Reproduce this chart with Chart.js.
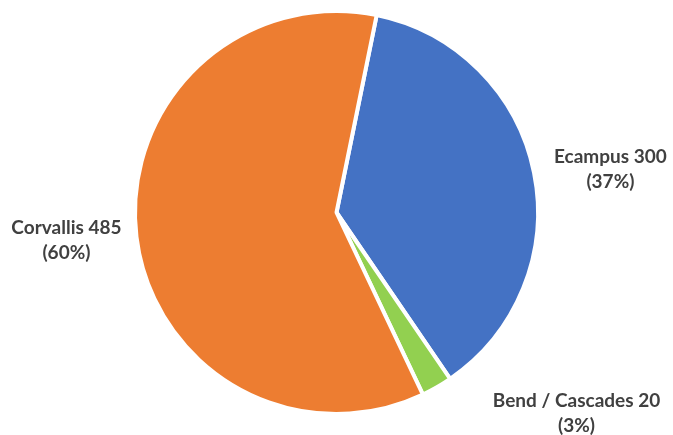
<!DOCTYPE html>
<html><head><meta charset="utf-8">
<script src="https://cdn.jsdelivr.net/npm/chart.js@4"></script>
<style>html,body{margin:0;padding:0;background:#fff}#wrap{width:673px;height:435px}</style>
</head><body><div id="wrap"><canvas id="c"></canvas></div>
<script>
const categories = ['Ecampus', 'Bend / Cascades', 'Corvallis'];
const values = [300, 20, 485];
const percentLabels = ['37%', '3%', '60%'];
const colors = ['#4472C4', '#92D050', '#ED7D31'];

// label placement tweaks relative to arc edge point at mid-angle: [dx, dy, align]
const labelTweaks = [[20, -3, 'left'], [56, 26, 'left'], [-15, 4, 'right']];

const labelPlugin = {
  id: 'outLabels',
  afterDatasetsDraw(chart) {
    const ctx = chart.ctx;
    const meta = chart.getDatasetMeta(0);
    ctx.save();
    ctx.font = 'bold 19px Lato, "Open Sans", sans-serif';
    ctx.fillStyle = '#404040';
    ctx.textBaseline = 'middle';
    meta.data.forEach((arc, i) => {
      const p = arc.getProps(['x', 'y', 'startAngle', 'endAngle', 'outerRadius'], true);
      const mid = (p.startAngle + p.endAngle) / 2;
      const ex = p.x + Math.cos(mid) * p.outerRadius;
      const ey = p.y + Math.sin(mid) * p.outerRadius;
      const [dx, dy, align] = labelTweaks[i];
      const l1 = categories[i] + ' ' + values[i];
      const l2 = '(' + percentLabels[i] + ')';
      const w = ctx.measureText(l1).width;
      let cx;
      if (align === 'left') cx = ex + dx + w / 2;
      else if (align === 'right') cx = ex + dx - w / 2;
      else cx = ex + dx;
      const cy = ey + dy;
      ctx.textAlign = 'center';
      ctx.fillText(l1, cx, cy - 12.5);
      ctx.fillText(l2, cx, cy + 12.5);
    });
    ctx.restore();
  }
};

new Chart(document.getElementById('c'), {
  type: 'pie',
  data: {
    labels: categories,
    datasets: [{
      data: values,
      backgroundColor: colors,
      borderColor: '#ffffff',
      borderWidth: 4
    }]
  },
  options: {
    responsive: true,
    maintainAspectRatio: false,
    animation: false,
    rotation: 11.5,
    layout: { padding: { top: 9, bottom: 19, left: 0, right: 0 } },
    plugins: { legend: { display: false }, tooltip: { enabled: false } }
  },
  plugins: [labelPlugin]
});
</script></body></html>
